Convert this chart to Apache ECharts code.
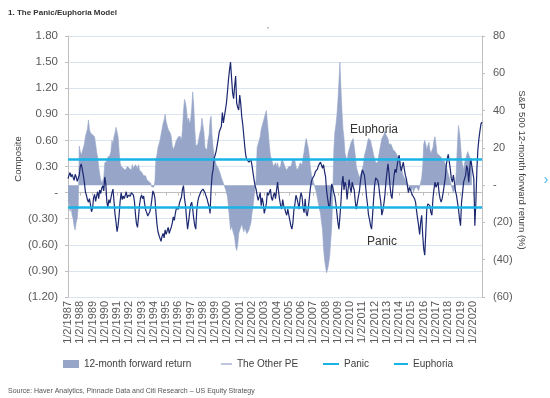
<!DOCTYPE html>
<html>
<head>
<meta charset="utf-8">
<title>The Panic/Euphoria Model</title>
<script src="https://cdn.jsdelivr.net/npm/echarts@6/dist/echarts.min.js"></script>
<style>
    html, body { margin: 0; padding: 0; background: #fff; }
    #chart { width: 550px; height: 398px; }
</style>
</head>
<body>
<div id="chart"></div>
<script>
    // monthly observations, Jan 1987 .. Oct 2020
    const years = [1987, 1988, 1989, 1990, 1991, 1992, 1993, 1994, 1995, 1996, 1997, 1998,
        1999, 2000, 2001, 2002, 2003, 2004, 2005, 2006, 2007, 2008, 2009, 2010, 2011, 2012,
        2013, 2014, 2015, 2016, 2017, 2018, 2019, 2020]
    const lastMonthOf2020 = 10

    // S&P 500 12-month forward return (%), right axis
    const forwardReturn = [
        -8, -10, -14, -12, -16, -18, -22, -24, -20, -18, -12, 21,
        18, 16, 17, 20, 22, 26, 28, 30, 35, 30, 28, 27,
        27, 28, 26, 22, 18, 15, 10, 6, 3, 1, 2, 4,
        12, 11, 13, 15, 14, 16, 18, 24, 22, 26, 28, 31,
        30, 26, 18, 12, 10, 11, 9, 10, 8, 9, 10, 11,
        9, 10, 8, 11, 9, 8, 11, 10, 9, 11, 8, 9,
        7, 6, 5, 4, 5, 3, 4, 2, 3, 1, -1, -2,
        -1, 2, 14, 16, 20, 22, 24, 27, 30, 33, 35, 38,
        34, 32, 30, 30, 28, 26, 21, 19, 20, 22, 24, 25,
        26, 25, 26, 24, 30, 40, 46, 44, 40, 34, 36, 33,
        35, 41, 50, 43, 30, 21, 20, 22, 25, 28, 30, 36,
        35, 28, 20, 21, 19, 24, 27, 35, 37, 26, 20, 16,
        13, 11, 10, 9, 8, 6, 4, 3, 1, 0, -2, -4,
        -6, -12, -18, -24, -22, -21, -26, -28, -33, -35, -32, -26,
        -24, -23, -21, -20, -25, -23, -22, -26, -27, -24, -22, -20,
        -15, -12, -6, -2, 3, 20, 22, 23, 26, 30, 31, 34,
        36, 38, 40, 34, 28, 21, 16, 14, 12, 10, 10, 12,
        10, 12, 9, 10, 10, 14, 15, 12, 10, 9, 8, 9,
        10, 9, 10, 12, 14, 15, 13, 10, 8, 9, 10, 12,
        11, 11, 15, 18, 22, 25, 24, 20, 16, 10, 6, 4,
        2, 0, -2, -4, -7, -10, -13, -15, -20, -24, -34, -40,
        -44, -47, -45, -42, -38, -30, -22, -6, 18, 28, 32, 37,
        45, 55, 66, 52, 40, 30, 25, 17, 15, 12, 17, 19,
        21, 23, 24, 25, 24, 16, 10, 8, 6, 4, 5, 7,
        8, 11, 16, 18, 20, 23, 25, 26, 24, 21, 19, 16,
        14, 12, 11, 12, 16, 19, 22, 25, 26, 27, 29, 27,
        26, 25, 22, 21, 22, 21, 19, 18, 18, 17, 16, 15,
        14, 12, 10, 7, 5, 4, 3, 2, 1, 0, -1, -2,
        -3, -1, -4, -2, -3, -1, -2, -3, -1, 0, 4, 10,
        22, 24, 22, 19, 21, 23, 19, 17, 16, 20, 24, 26,
        22, 17, 18, 16, 15, 15, 13, 12, 13, 14, 10, 8,
        6, 4, 2, 0, -2, -4, -3, -1, 10, 22, 32, 28,
        22, 14, 11, 8, 12, 14, 16, 18, 19, 15, 10, 8,
        null, null, null, null, null, null, null, null, null, null
    ]

    // Citi panic/euphoria composite ("The Other PE"), left axis
    const otherPE = [
        0.16, 0.20, 0.23, 0.18, 0.21, 0.19, 0.14, 0.21, 0.18, 0.13, 0.15, 0.20,
        0.30, 0.33, 0.31, 0.20, 0.12, 0.01, -0.03, -0.08, -0.11, -0.07, -0.14, -0.22,
        -0.18, -0.06, -0.02, -0.10, -0.04, 0.01, -0.07, 0.03, -0.01, 0.05, 0.08, 0.02,
        0.18, 0.10, -0.11, -0.17, -0.08, -0.12, -0.06, 0.00, 0.04, -0.10, -0.25, -0.34,
        -0.45, -0.38, -0.26, -0.10, 0.00, -0.08, -0.04, -0.07, -0.05, 0.01, -0.06, -0.03,
        -0.02, -0.04, 0.00, 0.02, -0.03, -0.10, -0.25, -0.36, -0.40, -0.28, -0.14, -0.06,
        -0.03, -0.07, -0.04, -0.13, -0.20, -0.23, -0.27, -0.25, -0.22, -0.17, -0.08, 0.02,
        -0.01, -0.06, -0.22, -0.36, -0.45, -0.49, -0.51, -0.56, -0.50, -0.47, -0.52, -0.43,
        -0.48, -0.44, -0.40, -0.47, -0.43, -0.40, -0.35, -0.28, -0.32, -0.24, -0.18, -0.17,
        -0.19, -0.12, -0.10, -0.05, 0.04, 0.08, -0.07, -0.15, -0.30, -0.42, -0.33, -0.23,
        -0.14, -0.11, -0.19, -0.30, -0.38, -0.42, -0.20, -0.10, -0.05, -0.03, 0.01, 0.03,
        0.04, 0.05, 0.00, -0.04, -0.07, -0.12, -0.16, -0.24, 0.05, 0.20, 0.27, 0.40,
        0.43, 0.48, 0.50, 0.62, 0.70, 0.73, 0.76, 0.92, 0.80, 0.88, 0.95, 1.03,
        1.16, 1.30, 1.41, 1.50, 1.32, 1.15, 1.08, 1.22, 1.34, 1.03, 0.98, 0.95,
        1.12, 1.02, 0.87, 0.78, 0.65, 0.52, 0.42, 0.38, 0.38, 0.35, 0.37, 0.38,
        0.31, 0.23, 0.15, 0.08, 0.04, -0.03, -0.09, -0.05, 0.00, -0.15, -0.06, -0.12,
        -0.24, -0.26, -0.13, 0.00, -0.03, -0.05, 0.04, -0.06, -0.09, -0.03, 0.00, -0.07,
        0.03, 0.12, 0.01, -0.08, -0.15, -0.19, -0.08, -0.15, -0.18, -0.23, -0.26, -0.19,
        -0.21, -0.32, -0.38, -0.42, -0.35, -0.20, -0.13, -0.03, -0.07, -0.12, -0.19, -0.07,
        0.00, -0.05, -0.18, -0.23, -0.07, -0.23, -0.27, -0.19, -0.07, 0.04, 0.12, 0.16,
        0.18, 0.20, 0.24, 0.26, 0.27, 0.31, 0.33, 0.35, 0.37, 0.28, 0.32, 0.24,
        0.18, 0.02, -0.07, -0.15, -0.18, -0.03, 0.10, 0.06, 0.00, -0.04, -0.12, -0.23,
        -0.34, -0.42, -0.28, -0.11, 0.10, 0.19, 0.03, 0.12, 0.08, -0.08, 0.04, 0.15,
        0.06, 0.00, 0.12, 0.07, 0.03, -0.10, -0.19, -0.12, -0.05, 0.01, 0.12, 0.20,
        0.26, 0.26, 0.20, 0.09, -0.04, -0.14, -0.26, -0.31, -0.38, -0.42, -0.25, -0.07,
        0.09, 0.17, 0.18, 0.14, 0.08, -0.03, -0.11, -0.26, -0.21, -0.13, -0.03, 0.12,
        0.23, 0.33, 0.23, 0.08, -0.03, -0.07, 0.08, 0.20, 0.27, 0.23, 0.21, 0.39,
        0.43, 0.31, 0.25, 0.27, 0.35, 0.27, 0.20, 0.16, 0.08, 0.00, 0.06, 0.08,
        0.00, -0.03, -0.05, -0.07, -0.11, -0.21, -0.30, -0.38, -0.48, -0.34, -0.26, -0.49,
        -0.65, -0.72, -0.46, -0.19, -0.13, -0.11, -0.15, -0.23, -0.26, -0.07, 0.04, 0.12,
        0.06, 0.04, 0.12, 0.00, -0.07, -0.11, -0.07, 0.00, 0.08, 0.16, 0.31, 0.39,
        0.44, 0.43, 0.27, 0.16, 0.12, 0.20, 0.12, 0.02, -0.03, -0.11, -0.19, -0.30,
        -0.38, -0.11, 0.00, 0.12, 0.16, 0.20, 0.31, 0.27, 0.12, 0.27, 0.39, 0.31,
        0.23, 0.16, -0.38, -0.11, 0.27, 0.50, 0.62, 0.71, 0.79, 0.81
    ]

    const panicLevel = -0.17
    const euphoriaLevel = 0.38

    // category labels like 1/2/1987, one per month
    const dates = []
    years.forEach(y => {
        for (let m = 1; m <= 12; m++) {
            if (y === 2020 && m > lastMonthOf2020) break
            dates.push(m + '/2/' + y)
        }
    })
    const isJanuary = (idx) => idx % 12 === 0

    // 0 -> "-", negatives in brackets
    function bracketFmt (digits) {
        return function (v) {
            if (Math.abs(v) < 1e-9) return '-'
            const s = Math.abs(v).toFixed(digits)
            return v < 0 ? '(' + s + ')' : s
        }
    }

    const axisGray = '#bfbfbf'
    const labelGray = '#595959'
    const fontFamily = '"Liberation Sans", Arial, sans-serif'
    const areaColor = '#97a6c8'
    const peColor = '#1c2870'
    const cyan = '#18b4e8'

    const legendBase = {
        top: 352,
        orient: 'horizontal',
        icon: 'rect',
        textStyle: { fontSize: 10, color: '#404040', fontFamily: fontFamily, lineHeight: 14 },
        selectedMode: false
    }

    const chart = echarts.init(document.getElementById('chart'), null, { renderer: 'canvas' })
    chart.setOption({
        animation: false,
        backgroundColor: '#fff',
        textStyle: { fontFamily: fontFamily },
        title: [
            { text: '1. The Panic/Euphoria Model', left: 3, top: 4,
              textStyle: { fontSize: 8, fontWeight: 'bold', color: '#333', fontFamily: fontFamily } },
            { text: 'Source: Haver Analytics, Pinnacle Data and Citi Research \u2013 US Equity Strategy', left: 3, top: 383,
              textStyle: { fontSize: 7, fontWeight: 'normal', color: '#555', fontFamily: fontFamily } }
        ],
        legend: [
            Object.assign({}, legendBase, { left: 58, itemWidth: 16, itemHeight: 8, data: ['12-month forward return'] }),
            Object.assign({}, legendBase, { left: 216, itemWidth: 11, itemHeight: 1, data: [{ name: 'The Other PE', itemStyle: { color: '#7f8ab8' } }] }),
            Object.assign({}, legendBase, { left: 318, itemWidth: 16, itemHeight: 2, data: ['Panic'] }),
            Object.assign({}, legendBase, { left: 389, itemWidth: 14, itemHeight: 2, data: ['Euphoria'] })
        ],
        grid: { left: 68, right: 68, top: 36, bottom: 101, containLabel: false },
        xAxis: [
            {
                type: 'category',
                data: dates,
                boundaryGap: false,
                position: 'bottom',
                axisLine: { show: false, onZero: false },
                axisTick: { show: false },
                axisLabel: {
                    interval: (idx) => isJanuary(idx),
                    rotate: 90,
                    margin: 4,
                    fontSize: 11,
                    color: labelGray,
                    fontFamily: fontFamily
                },
                splitLine: { show: false }
            },
            {
                type: 'category',
                data: dates,
                boundaryGap: false,
                position: 'top',
                axisLine: { show: true, onZero: true, onZeroAxisIndex: 0, lineStyle: { color: axisGray, width: 1 } },
                axisTick: { show: true, inside: true, length: 3, interval: (idx) => isJanuary(idx), lineStyle: { color: axisGray } },
                axisLabel: { show: false },
                splitLine: { show: false }
            }
        ],
        yAxis: [
            {
                type: 'value',
                position: 'left',
                min: -1.2,
                max: 1.8,
                interval: 0.3,
                axisLine: { show: true, lineStyle: { color: axisGray } },
                axisTick: { show: true, length: 3, lineStyle: { color: axisGray } },
                axisLabel: { formatter: bracketFmt(2), fontSize: 11.5, color: labelGray, margin: 10, fontFamily: fontFamily },
                splitLine: { show: true, lineStyle: { color: '#dbe4f1', width: 1 } }
            },
            {
                type: 'value',
                position: 'right',
                min: -60,
                max: 80,
                interval: 20,
                axisLine: { show: true, lineStyle: { color: axisGray } },
                axisTick: { show: true, length: 3, lineStyle: { color: axisGray } },
                axisLabel: { formatter: bracketFmt(0), fontSize: 11, color: labelGray, margin: 11, fontFamily: fontFamily },
                splitLine: { show: false }
            }
        ],
        graphic: [
            { type: 'text', x: 18, y: 159, rotation: Math.PI / 2,
              style: { text: 'Composite', fontSize: 9.5, fill: '#404040', align: 'center', verticalAlign: 'middle', fontFamily: fontFamily } },
            { type: 'text', x: 522, y: 170, rotation: -Math.PI / 2,
              style: { text: 'S&P 500 12-month forward return (%)', fontSize: 9.5, fill: '#404040', align: 'center', verticalAlign: 'middle', fontFamily: fontFamily } },
            { type: 'text', x: 350, y: 130, z: 100,
              style: { text: 'Euphoria', fontSize: 12, fill: '#333', align: 'left', verticalAlign: 'middle', fontFamily: fontFamily } },
            { type: 'text', x: 367, y: 242, z: 100,
              style: { text: 'Panic', fontSize: 12, fill: '#333', align: 'left', verticalAlign: 'middle', fontFamily: fontFamily } },
            { type: 'text', x: 268, y: 30,
              style: { text: '\'', fontSize: 8, fill: '#333', align: 'center', verticalAlign: 'middle' } },
            { type: 'text', x: 546, y: 180,
              style: { text: '\u203a', fontSize: 14, fill: '#3fb5e6', align: 'center', verticalAlign: 'middle' } }
        ],
        series: [
            {
                name: '12-month forward return',
                type: 'line',
                xAxisIndex: 0,
                yAxisIndex: 1,
                data: forwardReturn,
                symbol: 'none',
                sampling: 'none',
                connectNulls: false,
                itemStyle: { color: areaColor },
                lineStyle: { width: 0.6, color: areaColor },
                areaStyle: { color: areaColor, opacity: 1, origin: 'auto' },
                z: 2
            },
            {
                name: 'The Other PE',
                type: 'line',
                xAxisIndex: 0,
                yAxisIndex: 0,
                data: otherPE,
                symbol: 'none',
                sampling: 'none',
                itemStyle: { color: peColor },
                lineStyle: { width: 1.2, color: peColor },
                z: 3
            },
            {
                name: 'Panic',
                type: 'line',
                xAxisIndex: 0,
                yAxisIndex: 0,
                data: dates.map(() => panicLevel),
                symbol: 'none',
                itemStyle: { color: cyan },
                lineStyle: { width: 2.5, color: cyan },
                z: 4
            },
            {
                name: 'Euphoria',
                type: 'line',
                xAxisIndex: 0,
                yAxisIndex: 0,
                data: dates.map(() => euphoriaLevel),
                symbol: 'none',
                itemStyle: { color: cyan },
                lineStyle: { width: 2.5, color: cyan },
                z: 4
            }
        ]
    })
</script>
</body>
</html>
